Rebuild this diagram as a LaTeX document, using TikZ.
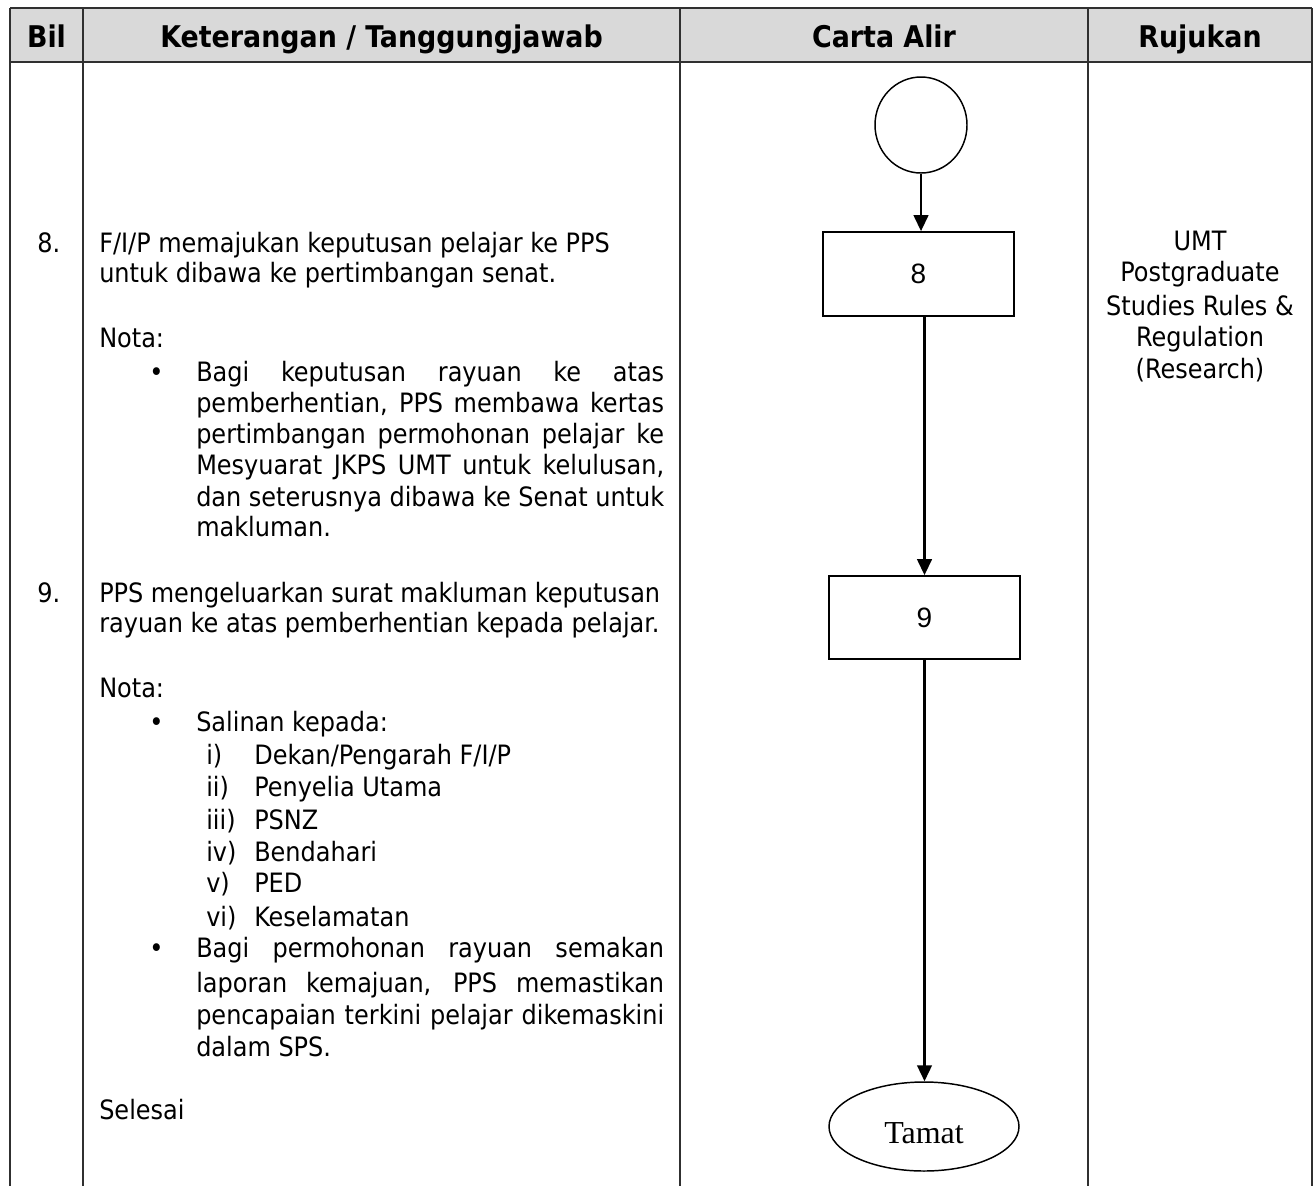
\documentclass[tikz,border=0pt]{standalone}
\usepackage{fontspec}
\setmainfont{DejaVu Sans Condensed}
\newfontfamily\arialf{Liberation Sans}
\newfontfamily\timesf{Liberation Serif}
\usetikzlibrary{arrows.meta,shapes.geometric}
\definecolor{hdrgray}{HTML}{D9D9D9}
\definecolor{rulecol}{HTML}{303030}
\newcommand{\jline}[2]{\makebox[#1][s]{#2}}
\begin{document}
\begin{tikzpicture}[x=0.75pt,y=-0.75pt,
  txt/.style={anchor=base west, inner sep=0pt, font=\fontsize{20}{24}\selectfont},
  rtxt/.style={anchor=base, inner sep=0pt, font=\fontsize{20}{24}\selectfont},
  hdr/.style={anchor=base, inner sep=0pt, font=\fontsize{22.4}{26}\selectfont\bfseries},
  tline/.style={draw=rulecol, line width=1.2pt},
  vline/.style={draw=rulecol, line width=0.9pt},
  fbox/.style={draw=black, line width=1.3pt, rectangle, inner sep=0pt, font=\arialf\fontsize{21}{24}\selectfont},
  term/.style={draw=black, line width=1.1pt, ellipse, inner sep=0pt},
  arr/.style={draw=black, line width=1.7pt, -{Triangle[width=11pt,length=12pt]}}
]
\useasboundingbox (0,0) rectangle (1313,1186);
\fill[white] (0,0) rectangle (1313,1186);
% header
\fill[hdrgray] (10,8) rectangle (1312,62);
\draw[tline] (10,8) -- (1312,8);
\draw[tline] (10,62) -- (1312,62);
\foreach \xx in {10,83,680,1088,1312} {\draw[vline] (\xx,8) -- (\xx,1186);}
\node[hdr] (h1) at (46.5,47) {Bil};
\node[hdr] (h2) at (381.5,47) {Keterangan / Tanggungjawab};
\node[hdr] (h3) at (884,47) {Carta Alir};
\node[hdr] (h4) at (1200,47) {Rujukan};
% step 8 text
\node[txt] (n8) at (37,252) {8.};
\node[txt] (a1) at (99,252) {F/I/P memajukan keputusan pelajar ke PPS};
\node[txt] (a2) at (99,282) {untuk dibawa ke pertimbangan senat.};
\node[txt] (a3) at (99,347) {Nota:};
\node[txt] (b1) at (149,381) {\textbullet};
\node[txt] (a4) at (196,381) {\jline{351pt}{Bagi keputusan rayuan ke atas}};
\node[txt] (a5) at (196,412) {\jline{351pt}{pemberhentian, PPS membawa kertas}};
\node[txt] (a6) at (196,443) {\jline{351pt}{pertimbangan permohonan pelajar ke}};
\node[txt] (a7) at (196,474) {\jline{351pt}{Mesyuarat JKPS UMT untuk kelulusan,}};
\node[txt] (a8) at (196,506) {\jline{351pt}{dan seterusnya dibawa ke Senat untuk}};
\node[txt] (a9) at (196,536) {makluman.};
% step 9 text
\node[txt] (n9) at (37,602) {9.};
\node[txt] (c1) at (99,602) {\jline{420.75pt}{PPS mengeluarkan surat makluman keputusan}};
\node[txt] (c2) at (99,632) {rayuan ke atas pemberhentian kepada pelajar.};
\node[txt] (c3) at (99,697) {Nota:};
\node[txt] (b2) at (149,731) {\textbullet};
\node[txt] (c4) at (196,731) {Salinan kepada:};
\node[txt] (r1) at (206,764) {i)};
\node[txt] (s1) at (254,764) {Dekan/Pengarah F/I/P};
\node[txt] (r2) at (206,796) {ii)};
\node[txt] (s2) at (254,796) {Penyelia Utama};
\node[txt] (r3) at (206,829) {iii)};
\node[txt] (s3) at (254,829) {PSNZ};
\node[txt] (r4) at (206,861) {iv)};
\node[txt] (s4) at (254,861) {Bendahari};
\node[txt] (r5) at (206,892) {v)};
\node[txt] (s5) at (254,892) {PED};
\node[txt] (r6) at (206,926) {vi)};
\node[txt] (s6) at (254,926) {Keselamatan};
\node[txt] (b3) at (149,957) {\textbullet};
\node[txt] (c5) at (196,957) {\jline{351pt}{Bagi permohonan rayuan semakan}};
\node[txt] (c6) at (196,992) {\jline{351pt}{laporan kemajuan, PPS memastikan}};
\node[txt] (c7) at (196,1024) {\jline{351pt}{pencapaian terkini pelajar dikemaskini}};
\node[txt] (c8) at (196,1056) {dalam SPS.};
\node[txt] (c9) at (99,1119) {Selesai};
% rujukan
\node[rtxt] (u1) at (1200,250) {UMT};
\node[rtxt] (u2) at (1200,281) {Postgraduate};
\node[rtxt] (u3) at (1200,315) {Studies Rules \&};
\node[rtxt] (u4) at (1200,346) {Regulation};
\node[rtxt] (u5) at (1200,378) {(Research)};
% flowchart
\node[term, minimum width=69pt, minimum height=72pt] (start) at (921,125) {};
\node[fbox, minimum width=143.25pt, minimum height=63pt] (b8) at (918.5,274) {8};
\node[fbox, minimum width=143.25pt, minimum height=62.25pt] (b9) at (924.5,617.5) {9};
\node[term, minimum width=142.5pt, minimum height=66.75pt, text height=26pt, text depth=0pt, font=\timesf\fontsize{24}{26}\selectfont] (end) at (924,1126.5) {Tamat};
\draw[arr] (start.south) -- (start.south |- b8.north);
\draw[arr] (b8.south -| b9.north) -- (b9.north);
\draw[arr] (b9.south) -- (b9.south |- end.north);
\end{tikzpicture}
\end{document}
